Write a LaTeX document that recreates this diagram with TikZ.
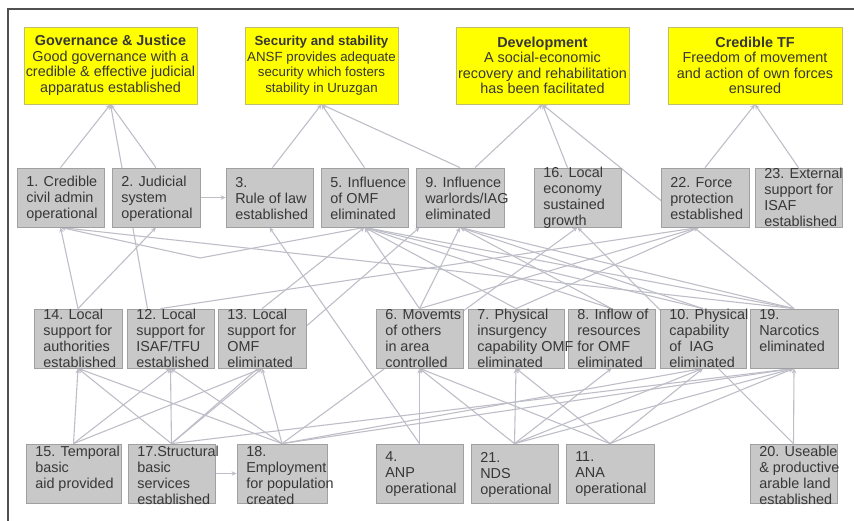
\documentclass[tikz,border=0pt]{standalone}
\usepackage{fontspec}
\setmainfont{Liberation Sans}
\usetikzlibrary{arrows.meta,calc}
\pgfdeclarelayer{background}
\pgfsetlayers{background,main}
\definecolor{boxfill}{RGB}{200,200,200}
\definecolor{boxborder}{RGB}{160,160,160}
\definecolor{yfill}{RGB}{255,255,0}
\definecolor{yborder}{RGB}{190,190,110}
\definecolor{txt}{RGB}{55,55,55}
\definecolor{edgec}{RGB}{190,190,200}
\definecolor{framec}{RGB}{80,80,80}
\tikzset{
  gbox/.style={draw=boxborder, fill=boxfill, line width=0.8pt, inner sep=0pt},
  ybox/.style={draw=yborder, fill=yfill, line width=0.8pt, align=center, font=\fontsize{14.4}{15.5}\selectfont, text=txt, inner sep=0pt},
  gtxt/.style={align=left, font=\fontsize{14.4}{16}\selectfont, text=txt, inner sep=0pt},
  edge/.style={draw=edgec, line width=1.1pt, -{Stealth[length=5pt,width=4.5pt]}},
}
\newcommand{\gbx}[5]{%
  \node[gbox, minimum width={(#4)-(#2)}, minimum height={(#5)-(#3)}] (#1) at ({((#2)+(#4))/2},{((#3)+(#5))/2}) {};}
\newcommand{\gtx}[3]{%
  \node[gtxt, anchor=west] (#1t) at ([xshift=9.5pt,yshift={-(#2)}]#1.west) {#3};}
\begin{document}
\begin{tikzpicture}[x=1pt,y=-1pt]
\useasboundingbox (0,0) rectangle (854,520);
\draw[framec, line width=1.5pt] (8,522) -- (8,9) -- (856,9);
% goal boxes
\node[ybox, minimum width=173pt, minimum height=77pt] (gov) at (110.5,65.5) {\textbf{Governance \& Justice}\\Good governance with a\\credible \& effective judicial\\apparatus established};
\node[ybox, minimum width=153pt, minimum height=77pt, font=\fontsize{13.3}{15.5}\selectfont] (sec) at (321.5,65.5) {\textbf{Security and stability}\\ANSF provides adequate\\security which fosters\\stability in Uruzgan};
\node[ybox, minimum width=173pt, minimum height=77pt] (dev) at (542.5,65.5) {\textbf{Development}\\A social-economic\\recovery and rehabilitation\\has been facilitated};
\node[ybox, minimum width=174pt, minimum height=77pt] (tf) at (755,65.5) {\textbf{Credible TF}\\Freedom of movement\\and action of own forces\\ensured};
% row 2
\gbx{n1}{17}{168}{104}{227}
\gbx{n2}{112}{168}{200}{227}
\gbx{n3}{226}{168}{313}{227}
\gbx{n5}{321}{168}{408}{227}
\gbx{n9}{416}{168}{504}{227}
\gbx{n16}{534}{168}{621}{227}
\gbx{n22}{661}{168}{749}{227}
\gbx{n23}{755}{168}{842}{227}
% row 3
\gbx{n14}{34}{309}{122}{368}
\gbx{n12}{127}{309}{214}{368}
\gbx{n13}{218}{309}{306}{368}
\gbx{n6}{376}{309}{463}{368}
\gbx{n7}{468}{309}{564}{368}
\gbx{n8}{568}{309}{655}{368}
\gbx{n10}{660}{309}{746}{368}
\gbx{n19}{750}{309}{838}{368}
% row 4
\gbx{n15}{26}{444}{121}{503}
\gbx{n17}{128}{444}{215}{503}
\gbx{n18}{237}{444}{327}{503}
\gbx{n4}{376}{444}{463}{503}
\gbx{n21}{471}{444}{558}{503}
\gbx{n11}{566}{444}{654}{503}
\gbx{n20}{750}{444}{837}{503}
% texts
\gtx{n1}{1}{1. Credible\\civil admin\\operational}
\gtx{n2}{1}{2. Judicial\\system\\operational}
\gtx{n3}{1}{3.\\Rule of law\\established}
\gtx{n5}{1}{5. Influence\\of OMF\\eliminated}
\gtx{n9}{1}{9. Influence\\warlords/IAG\\eliminated}
\gtx{n16}{0}{16. Local\\economy\\sustained\\growth}
\gtx{n22}{1}{22. Force\\protection\\established}
\gtx{n23}{0}{23. External\\support for\\ISAF\\established}
\gtx{n14}{0}{14. Local\\support for\\authorities\\established}
\gtx{n12}{0}{12. Local\\support for\\ISAF/TFU\\established}
\gtx{n13}{0}{13. Local\\support for\\OMF\\eliminated}
\gtx{n6}{0}{6. Movemts\\of others\\in area\\controlled}
\gtx{n7}{0}{7. Physical\\insurgency\\capability OMF\\eliminated}
\gtx{n8}{0}{8. Inflow of\\resources\\for OMF\\eliminated}
\gtx{n10}{0}{10. Physical\\capability\\of\ \ IAG\\eliminated}
\gtx{n19}{-8}{19.\\Narcotics\\eliminated}
\gtx{n15}{-5}{15. Temporal\\basic\\aid provided}
\gtx{n17}{2}{17.Structural\\basic\\services\\established}
\gtx{n18}{2}{18.\\Employment\\for population\\created}
\gtx{n4}{1}{4.\\ANP\\operational}
\gtx{n21}{1}{21.\\NDS\\operational}
\gtx{n11}{1}{11.\\ANA\\operational}
\gtx{n20}{2}{20. Useable\\\& productive\\arable land\\established}
\coordinate (bend) at (200,258);
\begin{pgfonlayer}{background}
% to goals
\draw[edge] (n1.north) -- (gov.south);
\draw[edge] (n2.north) -- (gov.south);
\draw[edge] ([xshift=-23pt]n12.north) -- (gov.south);
\draw[edge] ([xshift=3pt]n3.north) -- (sec.south);
\draw[edge] (n5.north) -- (sec.south);
\draw[edge] (n9.north) -- (sec.south);
\draw[edge] ([xshift=15pt]n9.north) -- (dev.south);
\draw[edge] ([xshift=-10pt]n16.north) -- (dev.south);
\draw[edge] (n19.north) -- (dev.south);
\draw[edge] (n22.north) -- (tf.south);
\draw[edge] (n23.north) -- (tf.south);
% horizontal
\draw[edge] (n2.east) -- (n3.west);
\draw[edge] (n17.east) -- (n18.west);
% upper band
\draw[edge] (n14.north) -- (n1.south);
\draw[edge] (n14.north) -- (n2.south);
\draw[edge] ([xshift=-10pt]n12.north) -- ([xshift=-6pt]n22.south);
\draw[edge] (n13.north) -- (n5.south);
\draw[edge] (n4.north) -- (n3.south);
\draw[edge] (n17.north) -- ([xshift=4pt]n9.south west);
\draw[edge] (n18.north) -- (n16.south);
\draw[edge] (n20.north) -- (n16.south);
\draw[edge] (n5.south) -- (bend) -- (n1.south);
\draw[edge] (n19.north) -- (n1.south);
\draw[edge] (n19.north) -- (n5.south);
\draw[edge] (n19.north) -- (n9.south);
\draw[edge] (n6.north) -- (n5.south);
\draw[edge] (n6.north) -- (n9.south);
\draw[edge] (n6.north) -- ([xshift=-6pt]n22.south);
\draw[edge] (n7.north) -- (n5.south);
\draw[edge] (n7.north) -- ([xshift=-6pt]n22.south);
\draw[edge] (n8.north) -- (n5.south);
\draw[edge] (n8.north) -- (n9.south);
\draw[edge] (n10.north) -- (n9.south);
\draw[edge] (n10.north) -- (n5.south);
% lower band
\draw[edge] (n15.north) -- (n14.south);
\draw[edge] (n15.north) -- (n12.south);
\draw[edge] (n15.north) -- (n13.south);
\draw[edge] (n17.north) -- (n14.south);
\draw[edge] (n17.north) -- (n12.south);
\draw[edge] (n17.north) -- (n13.south);
\draw[edge] (n18.north) -- (n14.south);
\draw[edge] (n18.north) -- (n12.south);
\draw[edge] (n18.north) -- (n13.south);
\draw[edge] (n4.north) -- (n6.south);
\draw[edge] (n21.north) -- (n6.south);
\draw[edge] (n11.north) -- (n6.south);
\draw[edge] (n21.north) -- (n7.south);
\draw[edge] (n11.north) -- (n7.south);
\draw[edge] (n21.north) -- (n8.south);
\draw[edge] (n21.north) -- (n10.south);
\draw[edge] (n11.north) -- (n10.south);
\draw[edge] (n21.north) -- (n19.south);
\draw[edge] (n11.north) -- (n19.south);
\draw[edge] (n20.north) -- (n19.south);
\draw[edge] (n18.north) -- (n10.south);
\draw[edge] (n18.north) -- (n19.south);
\draw[edge] (n17.north) -- (n19.south);
\end{pgfonlayer}
\end{tikzpicture}
\end{document}
